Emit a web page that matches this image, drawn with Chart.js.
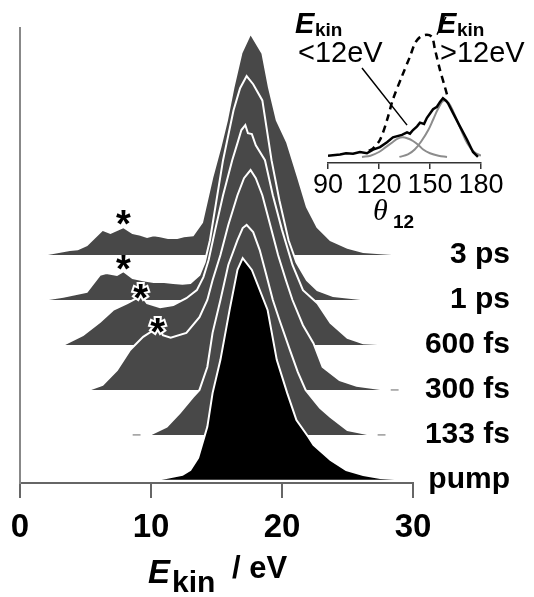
<!DOCTYPE html>
<html>
<head>
<meta charset="utf-8">
<script src="https://cdn.jsdelivr.net/npm/chart.js@4.4.0/dist/chart.umd.min.js"></script>
<style>
  html, body { margin: 0; padding: 0; background: #fff; }
  #wrap { position: relative; width: 534px; height: 597px; }
  #mainChart { position: absolute; left: 0; top: 0; }
  #insetChart { position: absolute; left: 290px; top: 0; }
</style>
</head>
<body>
<div id="wrap">
  <canvas id="mainChart" width="534" height="597"></canvas>
  <canvas id="insetChart" width="244" height="235"></canvas>
</div>
<script>
// delay labels and vertical offsets of each trace (pump at the bottom)
var delays = ['3 ps', '1 ps', '600 fs', '300 fs', '133 fs', 'pump'];
var offsets = [5, 4, 3, 2, 1, 0];

// kinetic energy (eV) and signal height for each spectrum
var e3ps = [1.7, 3.8, 4.4, 5.1, 6.3, 6.9, 7.9, 8.6, 9.2, 9.7, 10.2, 10.7, 11.3, 12.0, 12.5, 13.2, 13.9, 14.7, 15.3, 15.8, 16.3, 16.9, 17.6, 18.5, 19.0, 19.6, 20.4, 21.2, 21.9, 22.7, 23.7, 25.0, 26.2, 27.5, 29.6];
var h3ps = [0, 0.11, 0.13, 0.22, 0.56, 0.49, 0.62, 0.49, 0.45, 0.40, 0.44, 0.42, 0.38, 0.38, 0.42, 0.44, 0.73, 1.75, 2.4, 3.0, 3.73, 4.49, 4.93, 4.49, 3.73, 3.0, 2.5, 1.75, 1.07, 0.62, 0.33, 0.16, 0.07, 0.04, 0];

var e1ps = [1.7, 3.3, 5.1, 6.1, 6.6, 7.4, 7.9, 8.6, 9.4, 10.2, 11.0, 11.7, 12.4, 13.0, 13.7, 14.1, 14.5, 15.0, 15.5, 16.3, 16.8, 17.3, 17.8, 18.5, 19.2, 19.8, 20.5, 21.1, 21.9, 22.7, 23.9, 26.0, 28.2];
var h1ps = [0, 0.07, 0.18, 0.56, 0.60, 0.56, 0.64, 0.49, 0.44, 0.40, 0.40, 0.38, 0.36, 0.38, 0.56, 0.84, 1.33, 2.22, 3.11, 4.22, 4.71, 4.98, 4.8, 4.44, 3.11, 2.22, 1.33, 0.84, 0.44, 0.22, 0.09, 0.02, 0];

var e600 = [3.3, 4.8, 6.1, 7.1, 8.2, 8.9, 9.2, 9.7, 10.7, 11.7, 12.7, 13.5, 14.0, 14.4, 14.9, 15.5, 16.2, 16.6, 16.9, 17.2, 17.4, 17.7, 18.0, 18.7, 19.3, 20.0, 20.8, 21.6, 22.7, 23.7, 25.0, 26.2, 28.8];
var h600 = [0, 0.22, 0.51, 0.78, 0.93, 1.04, 1.13, 0.93, 0.84, 0.89, 1.04, 1.22, 1.51, 1.89, 2.56, 3.33, 4.11, 4.49, 4.78, 4.89, 4.71, 4.69, 4.44, 4.11, 3.33, 2.56, 1.78, 1.22, 0.93, 0.49, 0.16, 0.04, 0];

var e300 = [5.2, 6.3, 7.4, 8.4, 9.4, 10.2, 10.5, 10.9, 11.5, 12.7, 13.7, 14.3, 14.7, 15.3, 15.9, 16.6, 17.1, 17.6, 18.0, 18.5, 19.1, 19.7, 20.3, 20.8, 21.6, 22.4, 23.1, 24.4, 25.7, 27.5, 28.2];
var h300 = [0, 0.11, 0.44, 0.89, 1.18, 1.33, 1.51, 1.22, 1.16, 1.27, 1.62, 2.0, 2.44, 3.0, 3.67, 4.33, 4.71, 4.89, 4.71, 4.33, 3.67, 3.0, 2.44, 2.0, 1.44, 1.04, 0.51, 0.22, 0.09, 0.02, 0];

var e133 = [9.9, 11.2, 12.2, 13.2, 13.7, 14.3, 14.7, 15.3, 15.9, 16.6, 17.0, 17.3, 17.8, 18.3, 18.8, 19.3, 19.8, 20.6, 21.2, 21.8, 22.3, 22.9, 23.7, 25.0, 26.5, 26.9];
var h133 = [0, 0.18, 0.49, 0.84, 1.0, 1.51, 2.27, 3.0, 3.78, 4.33, 4.6, 4.67, 4.51, 4.11, 3.56, 3.0, 2.56, 1.89, 1.4, 1.0, 0.82, 0.6, 0.4, 0.11, 0.02, 0];

var ePump = [10.5, 12.4, 13.0, 13.6, 14.3, 14.7, 15.3, 16.0, 16.6, 17.0, 17.7, 18.9, 19.6, 20.4, 21.1, 22.0, 22.4, 23.7, 24.9, 26.2, 27.5, 29.4];
var hPump = [0, 0.11, 0.22, 0.49, 1.18, 1.93, 2.67, 3.78, 4.67, 4.93, 4.67, 3.78, 2.67, 1.93, 1.33, 0.96, 0.78, 0.44, 0.22, 0.11, 0.04, 0];

// short baseline fragments outside the filled spectra
var tailE = [[8.6, 9.2], [27.3, 27.9], [28.3, 28.9]];
var tailLevel = [1, 1, 2];

// asterisk markers
var starE = [7.9, 7.9, 9.2, 10.5];
var starY = [5.88, 4.88, 4.25, 3.48];

// inset: angular distributions vs theta12 (deg)
var thLow = [90, 97.1, 100.6, 104.7, 108.8, 112.9, 116.5, 120.6, 124.7, 128.2, 133.5, 136.5, 138.2, 140.0, 142.4, 144.1, 146.5, 148.2, 151.8, 154.1, 155.9, 157.6, 159.4, 160.6, 163.5, 167.6, 171.8, 175.3, 178.2];
var valLow = [0.01, 0.02, 0.03, 0.025, 0.04, 0.03, 0.06, 0.08, 0.12, 0.16, 0.18, 0.20, 0.19, 0.22, 0.25, 0.28, 0.27, 0.32, 0.39, 0.41, 0.45, 0.48, 0.46, 0.44, 0.36, 0.25, 0.14, 0.04, 0];
var thHigh = [114, 116.5, 120.6, 124.7, 128.2, 133.5, 138.2, 141.2, 144.1, 148.2, 151.2, 152.9, 155.9, 158.8, 160.6];
var valHigh = [0.05, 0.07, 0.14, 0.30, 0.47, 0.66, 0.82, 0.93, 0.98, 1.0, 0.98, 0.88, 0.71, 0.57, 0.48];
var thFit1 = [110, 115, 120, 124, 128, 131, 134, 137, 140, 143, 146, 150, 155, 160];
var valFit1 = [0, 0.01, 0.04, 0.08, 0.12, 0.15, 0.16, 0.15, 0.13, 0.10, 0.06, 0.03, 0.01, 0];
var thFit2 = [132, 137, 141, 145, 149, 152, 155, 158, 161, 164, 168, 172, 176, 180];
var valFit2 = [0, 0.02, 0.06, 0.13, 0.22, 0.31, 0.40, 0.46, 0.44, 0.36, 0.23, 0.11, 0.04, 0.01];

Chart.defaults.font.family = "'Liberation Sans', Arial, sans-serif";
Chart.defaults.color = '#000';

function toPoints(xs, ys, offset) {
    var pts = [];
    for (var i = 0; i < xs.length; i++) {
        pts.push({ x: xs[i], y: (offset || 0) + ys[i] });
    }
    return pts;
}

var spectra = [[e3ps, h3ps], [e1ps, h1ps], [e600, h600], [e300, h300], [e133, h133], [ePump, hPump]];

var mainSets = spectra.map(function (s, i) {
    return {
        label: delays[i],
        data: toPoints(s[0], s[1], offsets[i]),
        fill: { value: offsets[i] },
        backgroundColor: i === 5 ? '#000000' : '#484848',
        borderColor: '#ffffff',
        borderWidth: 2,
        pointRadius: 0,
        tension: 0,
        order: offsets[i] + 1
    };
});

tailE.forEach(function (seg, i) {
    mainSets.push({
        data: seg.map(function (e) { return { x: e, y: tailLevel[i] }; }),
        borderColor: '#9a9a9a',
        borderWidth: 1.5,
        pointRadius: 0,
        fill: false,
        order: 0
    });
});

// asterisks and axis title
var mainDecor = {
    id: 'mainDecor',
    afterDatasetsDraw: function (chart) {
        var ctx = chart.ctx, xs = chart.scales.x, ys = chart.scales.y;
        ctx.save();
        ctx.font = "bold 38px 'Liberation Sans', Arial, sans-serif";
        ctx.textAlign = 'center';
        ctx.textBaseline = 'alphabetic';
        for (var i = 0; i < starE.length; i++) {
            var px = xs.getPixelForValue(starE[i]);
            var py = ys.getPixelForValue(starY[i]) + 22;
            if (i >= 2) {
                ctx.lineWidth = 4;
                ctx.strokeStyle = '#fff';
                ctx.strokeText('*', px, py);
            }
            ctx.fillStyle = '#000';
            ctx.fillText('*', px, py);
        }
        ctx.restore();
    },
    afterDraw: function (chart) {
        var ctx = chart.ctx;
        ctx.save();
        ctx.fillStyle = '#000';
        ctx.textAlign = 'left';
        ctx.textBaseline = 'alphabetic';
        ctx.font = "italic bold 33px 'Liberation Sans', Arial, sans-serif";
        ctx.fillText('E', 148, 583);
        ctx.font = "bold 30px 'Liberation Sans', Arial, sans-serif";
        ctx.fillText('kin', 172, 592);
        ctx.font = "bold 31px 'Liberation Sans', Arial, sans-serif";
        ctx.fillText('/ eV', 232, 578);
        ctx.restore();
    }
};

new Chart(document.getElementById('mainChart'), {
    type: 'line',
    data: { datasets: mainSets },
    plugins: [mainDecor],
    options: {
        responsive: false,
        animation: false,
        devicePixelRatio: 1,
        layout: { padding: { left: 20, right: 24, top: 28, bottom: 0 } },
        plugins: { legend: { display: false }, tooltip: { enabled: false } },
        scales: {
            x: {
                type: 'linear', min: 0, max: 30,
                ticks: { stepSize: 10, font: { size: 33, weight: 'bold' }, color: '#000', padding: 10, maxRotation: 0 },
                grid: { drawOnChartArea: false, drawTicks: true, tickLength: 15, color: '#666', lineWidth: 2 },
                border: { display: true, color: '#666', width: 2 },
                afterFit: function (s) { s.height = 114; }
            },
            y: {
                type: 'linear', position: 'left', min: -0.07, max: 10.05,
                ticks: { display: false },
                grid: { display: false, drawTicks: false },
                border: { display: true, color: '#888', width: 2 },
                afterFit: function (s) { s.width = 0; }
            },
            y2: {
                type: 'linear', position: 'right', min: -0.07, max: 10.05,
                grid: { display: false, drawTicks: false },
                border: { display: false },
                afterBuildTicks: function (s) {
                    s.ticks = offsets.map(function (v) { return { value: v }; });
                },
                ticks: {
                    callback: function (v) { return delays[offsets.indexOf(v)]; },
                    crossAlign: 'far', font: { size: 30, weight: 'bold' }, color: '#000', padding: 0
                },
                afterFit: function (s) { s.width = 97; }
            }
        }
    }
});

// inset labels and pointer lines
var insetDecor = {
    id: 'insetDecor',
    afterDraw: function (chart) {
        var ctx = chart.ctx, xs = chart.scales.x, ys = chart.scales.y;
        ctx.save();
        ctx.fillStyle = '#000';
        ctx.textBaseline = 'alphabetic';
        ctx.textAlign = 'left';
        ctx.font = "italic bold 29px 'Liberation Sans', Arial, sans-serif";
        ctx.fillText('E', 5, 33);
        ctx.fillText('E', 147, 33);
        ctx.font = "bold 19px 'Liberation Sans', Arial, sans-serif";
        ctx.fillText('kin', 25, 36);
        ctx.fillText('kin', 167, 36);
        ctx.font = "29px 'Liberation Sans', Arial, sans-serif";
        ctx.fillText('<12eV', 8, 62);
        ctx.fillText('>12eV', 150, 62);
        // pointers
        ctx.strokeStyle = '#000';
        ctx.lineWidth = 1.5;
        ctx.beginPath();
        ctx.moveTo(72, 68);
        ctx.lineTo(xs.getPixelForValue(136.5), ys.getPixelForValue(0.26));
        ctx.moveTo(156, 17);
        ctx.lineTo(xs.getPixelForValue(154.1), ys.getPixelForValue(1.0));
        ctx.stroke();
        // theta_12
        ctx.font = "italic 30px 'Liberation Serif', 'Times New Roman', serif";
        ctx.fillText('\u03B8', 83, 220);
        ctx.font = "bold 19px 'Liberation Sans', Arial, sans-serif";
        ctx.fillText('12', 103, 228);
        ctx.restore();
    }
};

new Chart(document.getElementById('insetChart'), {
    type: 'line',
    data: {
        datasets: [
            { data: toPoints(thLow, valLow), borderColor: '#000', borderWidth: 2.5, pointRadius: 0, tension: 0, fill: false, order: 0 },
            { data: toPoints(thHigh, valHigh), borderColor: '#000', borderWidth: 2.5, borderDash: [7, 5], pointRadius: 0, tension: 0.3, fill: false, order: 1 },
            { data: toPoints(thFit1, valFit1), borderColor: '#8c8c8c', borderWidth: 2, pointRadius: 0, tension: 0.4, fill: false, order: 2 },
            { data: toPoints(thFit2, valFit2), borderColor: '#8c8c8c', borderWidth: 2, pointRadius: 0, tension: 0.4, fill: false, order: 2 }
        ]
    },
    plugins: [insetDecor],
    options: {
        responsive: false,
        animation: false,
        devicePixelRatio: 1,
        layout: { padding: { left: 38, right: 53, top: 20, bottom: 32 } },
        plugins: { legend: { display: false }, tooltip: { enabled: false } },
        scales: {
            x: {
                type: 'linear', min: 90, max: 180,
                ticks: { stepSize: 30, font: { size: 27 }, color: '#000', padding: 0, maxRotation: 0, autoSkip: false },
                grid: { drawOnChartArea: false, drawTicks: true, tickLength: 6, color: '#333', lineWidth: 1.5 },
                border: { display: true, color: '#333', width: 1.5 },
                afterFit: function (s) { s.height = 40; }
            },
            y: { display: false, min: -0.05, max: 1.12 }
        }
    }
});
</script>
</body>
</html>
